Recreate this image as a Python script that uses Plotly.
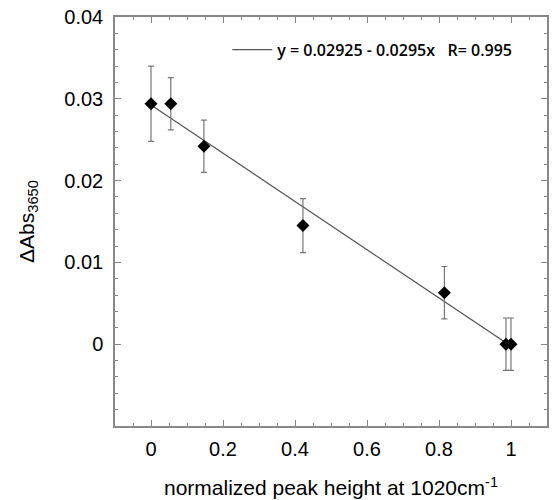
import plotly.graph_objects as go

x_vals = [0.0, 0.055, 0.147, 0.422, 0.815, 0.986, 1.0]
y_vals = [0.0294, 0.0294, 0.0242, 0.0145, 0.0063, 0.0, 0.0]
y_err = [0.0046, 0.0032, 0.0032, 0.0033, 0.0032, 0.0032, 0.0032]

intercept = 0.02925
slope = -0.0295
fit_x = [0.0, 1.0]
fit_y = [intercept + slope * v for v in fit_x]
fit_label = "y = 0.02925 - 0.0295x   R= 0.995"

fig = go.Figure()
fig.add_trace(go.Scatter(
    x=fit_x, y=fit_y, mode="lines", name=fit_label,
    line=dict(color="#555555", width=1.2), showlegend=True))
fig.add_trace(go.Scatter(
    x=x_vals, y=y_vals, mode="markers", showlegend=False,
    marker=dict(symbol="diamond", size=10, color="black"),
    error_y=dict(type="data", array=y_err, visible=True,
                 color="#777777", thickness=1.2, width=3)))

FONT = "Liberation Sans, Arial, sans-serif"
axis_common = dict(
    showline=True, linecolor="#888888", linewidth=1.5, mirror="ticks",
    ticks="inside", tickcolor="#888888", ticklen=6, tickwidth=1.2,
    showgrid=False, zeroline=False, automargin=False,
    tickfont=dict(family=FONT, size=20, color="black"),
)

fig.update_xaxes(
    range=[-0.1, 1.1], tickvals=[0, 0.2, 0.4, 0.6, 0.8, 1],
    ticktext=["0", "0.2", "0.4", "0.6", "0.8", "1"],
    minor=dict(dtick=0.05, ticks="inside", ticklen=3, tickcolor="#888888", showgrid=False),
    title=dict(text="normalized peak height at 1020cm<sup>-1</sup>",
               font=dict(family=FONT, size=21, color="black"),
               standoff=22),
    ticklabelstandoff=4,
    **axis_common)
fig.update_yaxes(
    range=[-0.01, 0.04], tickvals=[0, 0.01, 0.02, 0.03, 0.04],
    ticktext=["0", "0.01", "0.02", "0.03", "0.04"],
    minor=dict(dtick=0.002, ticks="inside", ticklen=3, tickcolor="#888888", showgrid=False),
    title=dict(text="ΔAbs<sub>3650</sub>",
               font=dict(family=FONT, size=21, color="black"),
               standoff=24),
    ticklabelstandoff=6,
    **axis_common)

fig.update_layout(
    width=552, height=500,
    margin=dict(l=115, r=5, t=17, b=74),
    plot_bgcolor="white", paper_bgcolor="white",
    legend=dict(x=0.26, y=0.92, xanchor="left", yanchor="middle",
                bgcolor="rgba(0,0,0,0)", itemwidth=40,
                font=dict(family="Open Sans, sans-serif", size=16, color="black",
                          weight=600)),
)

fig.write_html("out.html", config={"displayModeBar": False},
               post_script="document.body.style.margin='0';document.body.style.overflow='hidden';")
